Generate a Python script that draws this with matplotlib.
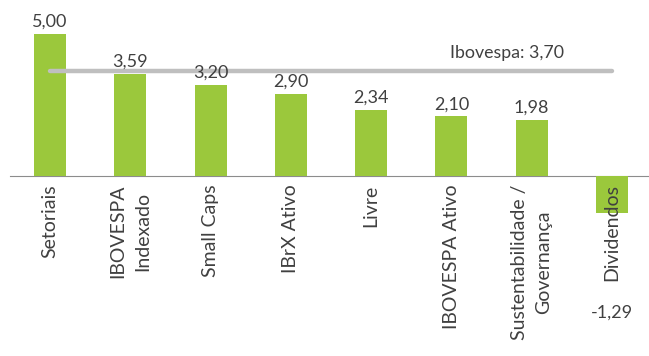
import matplotlib
matplotlib.use("Agg")
from matplotlib import pyplot
import numpy as np

# data
categories = ["Setoriais", "IBOVESPA\nIndexado", "Small Caps", "IBrX Ativo", "Livre",
              "IBOVESPA Ativo", "Sustentabilidade /\nGovernança", "Dividendos"]
values = [5.00, 3.59, 3.20, 2.90, 2.34, 2.10, 1.98, -1.29]
ibovespa = 3.70
ibovespaLabel = "Ibovespa: 3,70"

green = "#9BC83C"
textColor = "#404040"

pyplot.rcParams["font.family"] = ["Lato", "DejaVu Sans"]

figure = pyplot.figure(figsize=(6.49, 3.56), dpi=100)
axes = figure.add_axes([10/649, 0, 638/649, 1])
x = np.arange(len(categories))

bars = axes.bar(x, values, width=0.4, color=green, zorder=2)
axes.plot([x[0], x[-1]], [ibovespa, ibovespa], color="#BFBFBF", lw=3.2,
          solid_capstyle="round", zorder=3)
axes.annotate(ibovespaLabel, (5.69, ibovespa), xytext=(0, 7), textcoords="offset points",
              ha="center", va="bottom", fontsize=12.8, color=textColor, zorder=4)

# value labels
for xi, v in zip(x, values):
    txt = f"{v:.2f}".replace(".", ",")
    if v >= 0:
        axes.annotate(txt, (xi, v), xytext=(0, 3), textcoords="offset points",
                      ha="center", va="bottom", fontsize=13, color=textColor, zorder=4)
    else:
        axes.annotate(txt, (xi, v), xytext=(0, -66), textcoords="offset points",
                      ha="center", va="top", fontsize=13, color=textColor, zorder=4)

axes.set_xlim(-0.5, 7.45)
axes.set_ylim(-6.34, 6.20)
axes.spines["bottom"].set_position(("data", 0))
axes.spines["bottom"].set_color("#8C8C8C")
axes.spines["bottom"].set_zorder(1)
for s in ["top", "left", "right"]:
    axes.spines[s].set_visible(False)
axes.set_yticks([])
axes.set_xticks(x)
axes.set_xticklabels(categories, rotation=90, fontsize=14, color=textColor,
                     ha="center", va="top", multialignment="center", linespacing=1.55)
axes.tick_params(axis="x", length=0, pad=6)
axes.xaxis.set_zorder(6)

figure.savefig("out.png", dpi=100)
